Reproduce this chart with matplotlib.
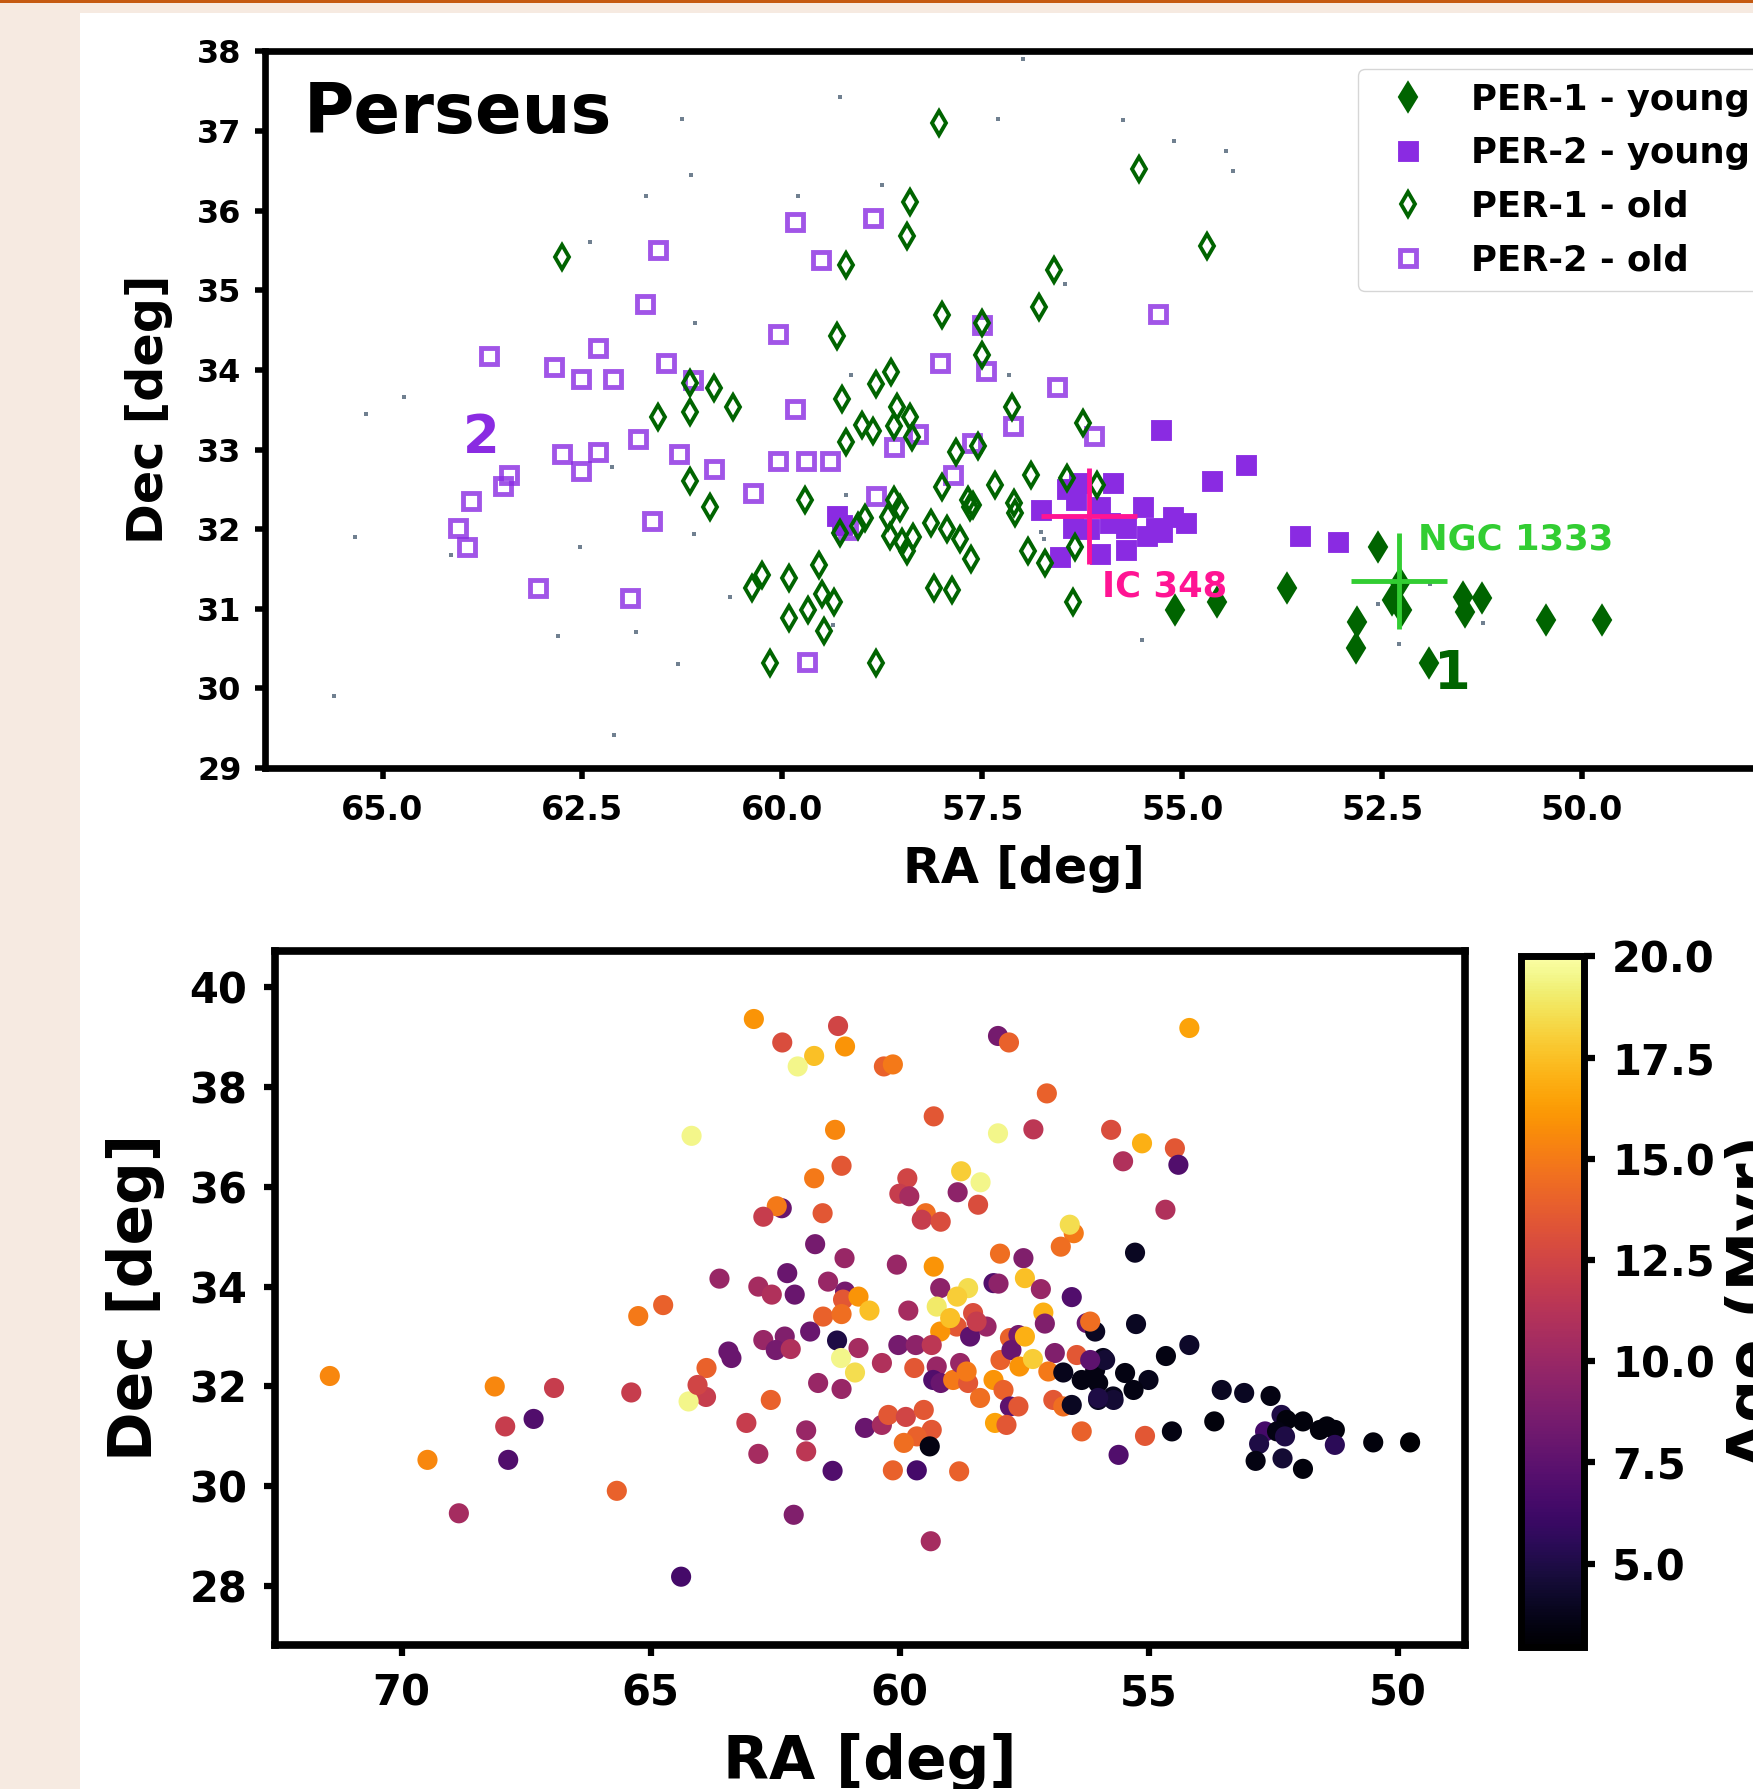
import matplotlib
matplotlib.use("Agg")
import matplotlib.pyplot as plt
from matplotlib.patches import Rectangle
from matplotlib.ticker import MultipleLocator, FormatStrFormatter

plt.rcParams["font.family"] = ["DejaVu Sans"]
plt.rcParams["font.weight"] = "bold"

# ---- top panel: Perseus groups (RA, Dec in deg) ----
field_ra = [56.99, 59.28, 57.31, 55.74, 55.10, 54.45, 54.36, 58.75, 59.81, 61.26,
            61.14, 61.71, 62.40, 61.09, 56.47, 59.14, 57.17, 64.73, 65.21, 65.34,
            64.14, 62.53, 62.13, 61.11, 59.20, 60.65, 59.37, 62.80, 61.83, 61.31,
            65.61, 62.11, 56.76, 56.73, 55.50, 52.29, 51.90, 51.24, 52.55]
field_dec = [37.91, 37.43, 37.15, 37.14, 36.88, 36.75, 36.50, 36.32, 36.18, 37.15,
             36.45, 36.18, 35.61, 34.59, 35.08, 33.93, 33.93, 33.66, 33.44, 31.90,
             31.68, 31.77, 32.78, 31.94, 32.43, 31.15, 30.79, 30.66, 30.71, 30.30,
             29.90, 29.42, 31.97, 31.87, 30.61, 30.56, 31.31, 30.82, 31.06]

per2_old_ra = [59.84, 58.87, 61.55, 59.52, 61.72, 60.05, 57.51, 55.30, 63.67, 62.86,
               62.30, 62.52, 62.12, 61.46, 61.12, 58.03, 57.46, 56.57, 59.84, 61.81,
               62.75, 62.30, 62.52, 61.29, 60.85, 60.05, 59.71, 59.40, 58.60, 58.30,
               57.63, 57.11, 56.10, 57.87, 63.42, 63.50, 63.89, 64.06, 63.95, 61.63,
               60.37, 58.83, 63.05, 61.91, 59.69, 59.18]
per2_old_dec = [35.86, 35.91, 35.51, 35.38, 34.83, 34.45, 34.56, 34.70, 34.17, 34.04,
                34.27, 33.89, 33.89, 34.09, 33.87, 34.09, 33.99, 33.79, 33.51, 33.13,
                32.94, 32.97, 32.73, 32.94, 32.76, 32.86, 32.86, 32.86, 33.03, 33.20,
                33.08, 33.29, 33.17, 32.68, 32.68, 32.54, 32.35, 32.01, 31.78, 32.10,
                32.45, 32.41, 31.26, 31.14, 30.33, 31.99]

per2_young_ra = [55.26, 54.20, 54.63, 53.53, 53.05, 56.76, 56.44, 56.29, 55.87, 56.33,
                 56.03, 56.37, 55.90, 55.70, 55.49, 55.33, 55.12, 54.95, 56.53, 56.03,
                 55.70, 56.16, 55.44, 55.25, 59.32, 59.25]
per2_young_dec = [33.24, 32.81, 32.60, 31.92, 31.84, 32.24, 32.50, 32.58, 32.58, 32.37,
                  32.28, 32.02, 32.08, 32.02, 32.28, 32.02, 32.15, 32.08, 31.65, 31.69,
                  31.74, 32.00, 31.91, 31.97, 32.17, 32.05]

per1_old_ra = [58.04, 55.54, 54.69, 62.75, 58.41, 58.44, 59.20, 56.60, 56.79, 58.00,
               59.32, 57.50, 57.50, 58.64, 58.83, 59.25, 61.15, 60.85, 60.62, 61.16,
               61.55, 58.57, 58.41, 58.60, 59.01, 58.87, 59.21, 58.38, 57.13, 56.24,
               57.56, 57.83, 58.01, 57.34, 56.89, 56.44, 56.06, 57.10, 57.09, 57.68,
               57.62, 57.66, 61.16, 60.91, 59.72, 58.60, 58.53, 58.68, 58.97, 59.05,
               59.28, 58.66, 58.50, 58.37, 58.44, 58.14, 57.94, 57.78, 57.64, 56.93,
               56.71, 56.34, 56.37, 58.11, 57.88, 59.54, 60.25, 60.38, 59.92, 59.68,
               59.50, 59.35, 59.92, 59.48, 60.15, 58.83]
per1_old_dec = [37.10, 36.52, 35.56, 35.42, 36.11, 35.68, 35.32, 35.25, 34.79, 34.69,
                34.42, 34.59, 34.19, 33.97, 33.82, 33.63, 33.83, 33.77, 33.54, 33.47,
                33.41, 33.53, 33.41, 33.29, 33.31, 33.23, 33.10, 33.16, 33.54, 33.33,
                33.04, 32.97, 32.53, 32.55, 32.68, 32.64, 32.55, 32.33, 32.20, 32.36,
                32.30, 32.28, 32.60, 32.28, 32.37, 32.37, 32.27, 32.15, 32.14, 32.04,
                31.95, 31.91, 31.84, 31.90, 31.72, 32.08, 32.00, 31.87, 31.62, 31.72,
                31.58, 31.77, 31.09, 31.26, 31.24, 31.55, 31.42, 31.26, 31.39, 30.99,
                31.18, 31.09, 30.88, 30.72, 30.32, 30.32]

per1_young_ra = [52.55, 53.69, 55.09, 54.56, 52.81, 52.83, 52.38, 52.25, 52.28, 51.92,
                 51.49, 51.47, 51.25, 50.45, 49.75]
per1_young_dec = [31.78, 31.26, 30.98, 31.08, 30.83, 30.51, 31.11, 30.99, 31.32, 30.32,
                  31.15, 30.96, 31.14, 30.86, 30.86]

cluster_names = ["IC 348", "NGC 1333"]
cluster_ra = [56.16, 52.29]
cluster_dec = [32.17, 31.35]

# ---- bottom panel: all members coloured by age ----
star_ra = [62.93, 62.36, 61.24, 61.10, 61.72, 62.05, 60.32, 60.14, 58.03, 57.81,
           54.19, 64.18, 61.30, 57.05, 59.32, 58.03, 57.32, 55.76, 55.14, 54.48,
           54.41, 55.52, 54.67, 55.28, 61.17, 61.72, 59.85, 60.01, 59.81, 58.77,
           58.38, 58.84, 58.43, 62.37, 62.47, 62.74, 61.55, 59.48, 59.56, 59.18,
           56.51, 56.59, 56.77, 61.70, 61.11, 60.06, 59.32, 57.99, 57.52, 57.49,
           57.17, 56.55, 63.62, 62.84, 62.26, 62.57, 62.11, 61.44, 61.10, 61.14,
           60.83, 60.61, 61.54, 61.17, 59.83, 59.19, 58.63, 58.85, 59.26, 58.12,
           58.02, 57.12, 57.09, 58.53, 58.86, 58.26, 59.19, 58.99, 58.59, 57.79,
           57.62, 56.25, 56.08, 62.74, 62.31, 62.49, 62.19, 61.80, 61.26, 60.83,
           61.18, 60.90, 60.03, 59.68, 59.36, 60.36, 59.71, 59.26, 59.33, 59.18,
           58.93, 58.63, 58.39, 58.79, 57.98, 57.76, 57.60, 57.33, 56.89, 57.02,
           56.45, 56.72, 56.35, 56.08, 55.92, 58.12, 57.92, 57.79, 57.62, 58.09,
           57.86, 56.92, 56.72, 56.55, 56.35, 55.61, 63.88, 63.44, 63.38, 63.89,
           62.59, 63.08, 62.84, 61.88, 61.88, 61.64, 61.17, 61.35, 60.70, 60.36,
           60.23, 59.88, 59.52, 59.36, 59.66, 59.92, 59.40, 60.14, 59.66, 58.81,
           62.13, 59.38, 58.66, 58.46, 57.49, 56.18, 56.02, 56.02, 55.72, 71.44,
           68.13, 66.94, 67.35, 67.92, 69.48, 67.86, 68.85, 65.39, 65.68, 64.39,
           64.24, 64.06, 64.75, 65.25, 55.26, 54.19, 54.66, 55.88, 56.18, 55.48,
           55.01, 55.31, 55.71, 56.02, 55.08, 54.54, 53.69, 53.54, 53.09, 52.56,
           52.34, 52.24, 51.91, 52.67, 52.43, 52.27, 52.79, 52.86, 52.32, 51.91,
           51.57, 51.43, 51.27, 51.27, 50.50, 49.76]
star_dec = [39.36, 38.89, 39.22, 38.81, 38.62, 38.41, 38.41, 38.45, 39.02, 38.89,
            39.18, 37.02, 37.14, 37.87, 37.41, 37.07, 37.15, 37.14, 36.87, 36.77,
            36.44, 36.51, 35.54, 34.68, 36.42, 36.17, 36.17, 35.86, 35.81, 36.31,
            36.09, 35.89, 35.64, 35.57, 35.61, 35.40, 35.47, 35.47, 35.34, 35.30,
            35.07, 35.24, 34.80, 34.85, 34.57, 34.44, 34.40, 34.66, 34.57, 34.17,
            33.95, 33.79, 34.16, 34.00, 34.27, 33.84, 33.84, 34.10, 33.90, 33.74,
            33.80, 33.52, 33.40, 33.45, 33.52, 33.97, 33.97, 33.80, 33.60, 34.07,
            34.06, 33.48, 33.26, 33.47, 33.20, 33.20, 33.10, 33.37, 33.00, 32.97,
            33.03, 33.27, 33.10, 32.93, 33.00, 32.73, 32.75, 33.10, 32.92, 32.77,
            32.57, 32.28, 32.83, 32.83, 32.83, 32.47, 32.37, 32.40, 32.13, 32.07,
            32.13, 32.07, 31.77, 32.47, 32.53, 32.73, 32.40, 32.55, 32.67, 32.30,
            32.63, 32.28, 32.13, 32.33, 32.57, 32.13, 31.93, 31.60, 31.60, 31.27,
            31.23, 31.73, 31.60, 31.63, 31.10, 30.63, 32.37, 32.70, 32.57, 31.79,
            31.73, 31.27, 30.65, 31.12, 30.70, 32.07, 31.95, 30.31, 31.17, 31.23,
            31.43, 31.39, 31.53, 31.13, 31.00, 30.87, 30.80, 30.32, 30.32, 30.30,
            29.43, 28.90, 32.30, 33.30, 33.00, 33.30, 32.07, 31.73, 31.80, 32.21,
            32.00, 31.97, 31.35, 31.20, 30.53, 30.53, 29.46, 31.88, 29.91, 28.19,
            31.70, 32.03, 33.63, 33.41, 33.25, 32.83, 32.61, 32.53, 32.53, 32.27,
            32.13, 31.93, 31.73, 31.77, 31.01, 31.10, 31.30, 31.93, 31.87, 31.81,
            31.43, 31.33, 31.30, 31.10, 31.10, 31.00, 30.85, 30.51, 30.56, 30.35,
            31.13, 31.20, 31.13, 30.83, 30.88, 30.88]
star_age = [16.0, 13.0, 12.5, 16.0, 17.5, 19.5, 14.0, 15.0, 8.5, 14.0,
            16.5, 19.5, 15.5, 14.0, 13.5, 19.5, 11.5, 13.0, 17.0, 13.5,
            7.0, 11.0, 11.0, 4.0, 13.5, 15.0, 12.5, 12.0, 10.5, 18.0,
            19.5, 9.5, 13.0, 8.0, 15.0, 12.0, 13.5, 14.5, 12.0, 13.0,
            15.0, 18.5, 14.5, 8.5, 10.0, 10.0, 16.0, 14.5, 9.0, 17.5,
            10.0, 7.0, 10.0, 10.5, 8.0, 11.0, 8.0, 10.0, 8.5, 13.5,
            16.0, 17.5, 14.0, 14.5, 10.5, 9.5, 18.5, 18.0, 19.0, 7.0,
            9.5, 17.0, 9.0, 13.0, 13.5, 10.0, 16.0, 17.5, 7.5, 14.0,
            8.5, 8.0, 4.0, 10.0, 9.0, 8.5, 11.0, 8.0, 5.0, 10.5,
            19.5, 18.5, 8.5, 9.5, 11.5, 11.0, 13.5, 10.0, 7.0, 8.0,
            15.0, 13.5, 14.5, 10.0, 14.0, 8.0, 16.0, 18.0, 9.0, 15.0,
            13.5, 3.8, 3.5, 3.5, 3.8, 16.0, 14.0, 7.5, 13.5, 16.5,
            13.5, 13.5, 14.5, 4.0, 14.0, 7.0, 14.0, 8.0, 8.0, 12.0,
            14.0, 12.0, 10.5, 10.0, 11.5, 10.0, 10.0, 7.0, 8.0, 10.5,
            13.5, 12.5, 13.5, 13.5, 14.0, 14.5, 3.5, 14.0, 6.5, 14.0,
            9.0, 10.5, 15.0, 12.0, 17.0, 14.5, 3.5, 4.0, 3.8, 15.5,
            15.5, 12.0, 7.0, 12.0, 15.5, 7.0, 10.5, 12.0, 14.0, 6.5,
            19.5, 12.5, 14.0, 15.0, 4.0, 4.2, 3.5, 4.5, 7.5, 3.5,
            3.8, 3.5, 4.5, 5.0, 13.5, 3.5, 3.3, 4.0, 4.0, 3.5,
            5.0, 3.3, 3.3, 6.5, 3.5, 5.0, 5.0, 3.5, 4.5, 3.3,
            3.3, 3.3, 3.3, 5.5, 3.3, 3.0]

cbar_ticks = [5.0, 7.5, 10.0, 12.5, 15.0, 17.5, 20.0]

W, H = 1753, 1789
fig = plt.figure(figsize=(W / 100, H / 100), dpi=100)
fig.patch.set_facecolor("white")

# page background (screenshot margins)
beige = "#f6eae1"
fig.add_artist(Rectangle((0, 0), 80 / W, 1, transform=fig.transFigure,
                         facecolor=beige, edgecolor="none", zorder=-5))
fig.add_artist(Rectangle((0, 1 - 13 / H), 1, 13 / H, transform=fig.transFigure,
                         facecolor=beige, edgecolor="none", zorder=-5))
fig.add_artist(Rectangle((0, 1 - 2.5 / H), 1, 2.5 / H, transform=fig.transFigure,
                         facecolor="#c55a11", edgecolor="none", zorder=-4))

green = "darkgreen"
purple = "blueviolet"

# ---------------- top panel ----------------
ax1 = fig.add_axes([265 / W, 1 - 768 / H, 1493 / W, 716.6 / H])
ax1.plot(field_ra, field_dec, ls="none", marker="s", ms=3.5, mew=0,
         color="slategray", zorder=1)
h_p2o, = ax1.plot(per2_old_ra, per2_old_dec, ls="none", marker="s", ms=11.5,
                  mfc="none", mec=purple, mew=3.5, alpha=0.8, zorder=2)
h_p2y, = ax1.plot(per2_young_ra, per2_young_dec, ls="none", marker="s", ms=11.5,
                  color=purple, mew=3.5, zorder=3)
h_p1o, = ax1.plot(per1_old_ra, per1_old_dec, ls="none", marker="d", ms=12.5,
                  mfc="none", mec=green, mew=2.8, zorder=4)
h_p1y, = ax1.plot(per1_young_ra, per1_young_dec, ls="none", marker="d", ms=13,
                  color=green, mew=2.8, zorder=5)
ax1.plot(cluster_ra[0], cluster_dec[0], ls="none", marker="+", ms=69, mew=3.5,
         color="deeppink", zorder=6)
ax1.plot(cluster_ra[1], cluster_dec[1], ls="none", marker="+", ms=69, mew=3.5,
         color="limegreen", zorder=6)
ax1.text(56.0, 31.16, cluster_names[0], color="deeppink", fontsize=25.5,
         fontweight="bold", ha="left", va="baseline", zorder=7)
ax1.text(52.05, 31.74, cluster_names[1], color="limegreen", fontsize=25.5,
         fontweight="bold", ha="left", va="baseline", zorder=7)
ax1.text(64.0, 32.96, "2", color=purple, fontsize=38, fontweight="bold",
         ha="left", va="baseline")
ax1.text(51.85, 29.99, "1", color=green, fontsize=38, fontweight="bold",
         ha="left", va="baseline")
ax1.text(65.99, 36.97, "Perseus", fontsize=49.5, fontweight="bold",
         ha="left", va="baseline")

ax1.set_xlim(66.47, 47.8)
ax1.set_ylim(29, 38)
ax1.xaxis.set_major_locator(MultipleLocator(2.5))
ax1.xaxis.set_major_formatter(FormatStrFormatter("%.1f"))
ax1.yaxis.set_major_locator(MultipleLocator(1))
ax1.tick_params(axis="x", labelsize=24, width=4, length=8, pad=11)
ax1.tick_params(axis="y", labelsize=23, width=4, length=7, pad=10)
for sp in ax1.spines.values():
    sp.set_linewidth(4.8)
ax1.set_xlabel("RA [deg]", fontsize=35.5, fontweight="bold")
ax1.set_ylabel("Dec [deg]", fontsize=35.5, fontweight="bold")
ax1.xaxis.set_label_coords(0.5 * 1518 / 1493, -0.107)
ax1.yaxis.set_label_coords(-0.0616, 0.5)

fig.legend([h_p1y, h_p2y, h_p1o, h_p2o],
           ["PER-1 - young", "PER-2 - young", "PER-1 - old", "PER-2 - old"],
           loc="upper left", bbox_to_anchor=(1358 / W, 1 - 68.5 / H),
           bbox_transform=fig.transFigure, borderaxespad=0, numpoints=1,
           labelspacing=0.55, prop={"weight": "bold", "size": 25.5})

# ---------------- bottom panel ----------------
ax2 = fig.add_axes([275 / W, 1 - 1644.6 / H, 1190.4 / W, 694 / H])
sc = ax2.scatter(star_ra, star_dec, c=star_age, cmap="inferno", vmin=2.94,
                 vmax=20, s=210, linewidths=0)
ax2.set_xlim(72.54, 48.65)
ax2.set_ylim(26.83, 40.73)
ax2.xaxis.set_major_locator(MultipleLocator(5))
ax2.yaxis.set_major_locator(MultipleLocator(2))
ax2.tick_params(axis="both", labelsize=30, width=4.5, length=8, pad=12)
for sp in ax2.spines.values():
    sp.set_linewidth(5.5)
ax2.set_xlabel("RA [deg]", fontsize=43, fontweight="bold")
ax2.set_ylabel("Dec [deg]", fontsize=43, fontweight="bold")
ax2.xaxis.set_label_coords(0.5, -0.1274)
ax2.yaxis.set_label_coords(-0.0924, 0.5)

cax = fig.add_axes([1521.4 / W, 1 - 1646.9 / H, 62.7 / W, 690.5 / H])
cb = fig.colorbar(sc, cax=cax, ticks=cbar_ticks)
cb.ax.yaxis.set_major_formatter(FormatStrFormatter("%.1f"))
cb.ax.tick_params(labelsize=30, width=4.5, length=8, pad=12)
cb.outline.set_linewidth(5)
cb.set_label("Age (Myr)", fontsize=43, fontweight="bold")
cb.ax.yaxis.set_label_coords(3.25, 0.5)

fig.savefig("out.png", dpi=100, facecolor=fig.get_facecolor())
